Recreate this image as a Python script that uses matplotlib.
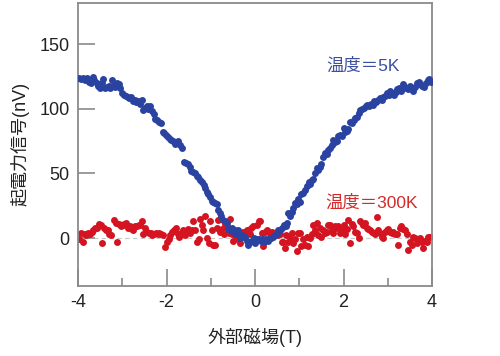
import matplotlib
matplotlib.use("Agg")
import matplotlib.pyplot as plt
from matplotlib.ticker import MultipleLocator

plt.rcParams['font.family'] = ['Liberation Sans', 'Noto Sans CJK JP', 'DejaVu Sans']
plt.rcParams['axes.unicode_minus'] = False

# 5K data (magnetic field T, signal nV)
blue_x = [-3.97, -3.93, -3.88, -3.84, -3.79, -3.75, -3.71, -3.67, -3.63, -3.58,
          -3.54, -3.50, -3.46, -3.43, -3.39, -3.35, -3.31, -3.27, -3.24, -3.20,
          -3.16, -3.12, -3.08, -3.04, -3.00, -2.96, -2.92, -2.88, -2.84, -2.80,
          -2.76, -2.72, -2.68, -2.64, -2.60, -2.56, -2.53, -2.49, -2.45, -2.41,
          -2.37, -2.33, -2.29, -2.25, -2.21, -2.17, -2.13, -2.09, -2.05, -2.01,
          -1.97, -1.93, -1.89, -1.85, -1.81, -1.77, -1.73, -1.69, -1.66, -1.60,
          -1.56, -1.52, -1.48, -1.44, -1.40, -1.36, -1.32, -1.28, -1.24, -1.20,
          -1.16, -1.13, -1.09, -1.06, -1.02, -0.98, -0.94, -0.90, -0.87, -0.83,
          -0.79, -0.76, -0.72, -0.68, -0.64, -0.61, -0.57, -0.53, -0.49, -0.45,
          -0.42, -0.38, -0.34, -0.30, -0.26, -0.23, -0.19, -0.15, -0.11, -0.07,
          -0.03, 0.01, 0.05, 0.09, 0.13, 0.17, 0.21, 0.25, 0.29, 0.33,
          0.37, 0.41, 0.45, 0.49, 0.53, 0.57, 0.61, 0.65, 0.69, 0.72,
          0.75, 0.79, 0.83, 0.87, 0.90, 0.94, 0.98, 1.02, 1.05, 1.09,
          1.13, 1.17, 1.21, 1.24, 1.28, 1.32, 1.36, 1.39, 1.43, 1.47,
          1.50, 1.54, 1.58, 1.62, 1.66, 1.69, 1.73, 1.77, 1.81, 1.85,
          1.88, 1.92, 1.96, 2.00, 2.03, 2.07, 2.11, 2.15, 2.19, 2.23,
          2.26, 2.30, 2.34, 2.38, 2.42, 2.46, 2.50, 2.54, 2.58, 2.62,
          2.66, 2.70, 2.74, 2.78, 2.82, 2.86, 2.90, 2.94, 2.98, 3.02,
          3.06, 3.10, 3.14, 3.18, 3.22, 3.26, 3.30, 3.34, 3.38, 3.42,
          3.46, 3.50, 3.54, 3.58, 3.62, 3.66, 3.70, 3.74, 3.78, 3.82,
          3.86, 3.90, 3.94, 3.98]
blue_y = [124, 123, 124, 122, 124, 121, 120, 125, 122, 120,
          118, 116, 120, 123, 116, 117, 118, 116, 122, 118,
          117, 120, 119, 116, 112, 111, 110, 109, 108, 109,
          106, 107, 105, 106, 104, 107, 99, 101, 102, 100,
          102, 98, 96, 92, 91, 90, 89, 82, 81, 80,
          78, 77, 76, 75, 73, 74, 75, 72, 70, 59,
          58, 57, 55, 52, 51, 50, 48, 47, 45, 43,
          41, 39, 36, 34, 32, 29, 28, 27, 26, 22,
          19, 17, 14, 13, 12, 7, 6, 8, 5, 4,
          3, 6, 0, 2, 1, 1, -2, -5, -3, -2,
          0, -4, -1, -1, -2, -1, -3, -1, -2, 0,
          0, 1, 2, 3, 6, 6, 8, 10, 9, 12,
          19, 17, 20, 23, 27, 26, 30, 28, 34, 35,
          37, 40, 43, 42, 45, 46, 50, 54, 53, 55,
          57, 63, 66, 65, 68, 70, 72, 76, 74, 75,
          79, 80, 79, 85, 82, 83, 84, 90, 89, 91,
          93, 94, 97, 99, 100, 101, 102, 103, 102, 104,
          103, 106, 105, 107, 108, 107, 109, 110, 112, 111,
          114, 112, 111, 113, 115, 116, 114, 119, 117, 116,
          115, 118, 116, 114, 117, 120, 121, 119, 118, 117,
          120, 122, 123, 121]

# 300K data
red_x = [-3.97, -3.93, -3.89, -3.85, -3.81, -3.77, -3.73, -3.69, -3.65, -3.61,
         -3.57, -3.53, -3.49, -3.45, -3.41, -3.37, -3.33, -3.29, -3.25, -3.19,
         -3.15, -3.11, -3.07, -3.03, -2.99, -2.95, -2.91, -2.87, -2.83, -2.79,
         -2.75, -2.71, -2.67, -2.63, -2.59, -2.55, -2.52, -2.48, -2.44, -2.40,
         -2.36, -2.32, -2.28, -2.24, -2.20, -2.16, -2.12, -2.08, -2.03, -1.99,
         -1.95, -1.91, -1.87, -1.83, -1.79, -1.75, -1.71, -1.67, -1.63, -1.59,
         -1.55, -1.51, -1.47, -1.43, -1.39, -1.35, -1.31, -1.27, -1.24, -1.20,
         -1.17, -1.13, -1.09, -1.05, -1.01, -0.98, -0.95, -0.91, -0.87, -0.83,
         -0.79, -0.75, -0.71, -0.67, -0.63, -0.59, -0.56, -0.52, -0.49, -0.46,
         -0.42, -0.38, -0.34, -0.30, -0.26, -0.22, -0.18, -0.12, -0.08, -0.04,
         0.00, 0.04, 0.08, 0.11, 0.15, 0.19, 0.23, 0.27, 0.31, 0.35,
         0.39, 0.43, 0.47, 0.52, 0.56, 0.60, 0.64, 0.67, 0.71, 0.75,
         0.79, 0.83, 0.87, 0.90, 0.94, 0.98, 1.02, 1.05, 1.09, 1.13,
         1.17, 1.20, 1.24, 1.28, 1.31, 1.35, 1.39, 1.43, 1.47, 1.50,
         1.54, 1.58, 1.62, 1.66, 1.69, 1.73, 1.77, 1.81, 1.84, 1.88,
         1.92, 1.96, 2.00, 2.04, 2.07, 2.11, 2.15, 2.19, 2.22, 2.26,
         2.30, 2.34, 2.37, 2.41, 2.45, 2.49, 2.52, 2.56, 2.60, 2.64,
         2.68, 2.71, 2.75, 2.79, 2.82, 2.86, 2.90, 2.94, 2.98, 3.01,
         3.05, 3.09, 3.12, 3.16, 3.20, 3.24, 3.27, 3.31, 3.35, 3.39,
         3.43, 3.46, 3.50, 3.54, 3.58, 3.62, 3.65, 3.69, 3.73, 3.77,
         3.80, 3.84, 3.88, 3.91, 3.95]
red_y = [-1, 4, -3, 3, 2, 4, 3, 5, 6, 8,
         8, 11, 10, -4, 8, 6, 6, 3, 2, 14,
         12, -3, 11, 9, 10, 11, 12, 8, 9, 7,
         6, 9, 9, 10, 10, 13, 3, 8, 5, 4,
         4, 2, 3, 4, 3, 4, 3, 2, -7, -3,
         -1, 2, 5, 6, 8, 3, 1, 4, 6, 2,
         5, 7, 4, 6, 13, 6, -3, -1, 15, 10,
         6, 17, 0, -4, 13, 6, -5, -5, 8, 14,
         5, 7, 3, 11, 9, 4, 15, 3, -2, 6,
         1, -1, -4, 2, 5, 4, 6, 3, 8, 9,
         -1, 10, 13, 13, 4, -6, 5, 6, 5, 4,
         5, 3, 3, 2, 3, -3, -3, -8, 2, -3,
         0, 4, -4, -1, -10, 4, 4, -6, -1, -5,
         1, -6, 0, 3, 10, 6, 12, 2, 8, 1,
         6, 4, 5, 10, 10, 6, 4, 9, 8, 9,
         4, 6, 10, 3, 7, 14, -4, 11, 9, 5,
         4, 0, 13, 12, 10, 12, 8, 7, 6, 5,
         4, 3, 16, 6, 4, 1, 0, 5, 6, 7,
         5, 4, 5, 3, 3, -5, 8, 9, 7, 6,
         3, -9, -3, -5, 1, 0, -4, -2, 0, -3,
         -8, -2, -3, 1, 1]

blue = '#2b43a0'
red = '#d41420'

fig = plt.figure(figsize=(5.0, 3.56), dpi=100)
ax = fig.add_axes([0.156, 0.197, 0.708, 0.795])

ax.axhline(0, color='#c8c8c8', linestyle=(0, (4, 3)), linewidth=0.8, zorder=1)
ax.scatter(red_x, red_y, s=25, color=red, linewidths=0, zorder=2)
ax.scatter(blue_x, blue_y, s=25, color=blue, linewidths=0, zorder=3)

ax.set_xlim(-4, 4)
ax.set_ylim(-37, 182)
ax.xaxis.set_major_locator(MultipleLocator(2))
ax.xaxis.set_minor_locator(MultipleLocator(1))
ax.set_yticks([0, 50, 100, 150])

for s in ax.spines.values():
    s.set_color('#8a8a8a')
    s.set_linewidth(1.3)
ax.tick_params(axis='both', which='major', direction='in', length=12, width=1.2,
               color='#8a8a8a', labelsize=13, labelcolor='#222222')
ax.tick_params(axis='x', which='minor', direction='in', length=6, width=1.2,
               color='#8a8a8a')
ax.tick_params(axis='x', pad=6)
ax.tick_params(axis='y', pad=6)

ax.set_xlabel('外部磁場(T)', fontsize=13, color='#222222', labelpad=12)
ax.set_ylabel('起電力信号(nV)', fontsize=13, color='#222222', labelpad=7)

ax.text(1.60, 133, '温度＝5K', color='#3a4f9e', fontsize=12.5, va='center')
ax.text(1.58, 27, '温度＝300K', color='#d42a2a', fontsize=12.5, va='center')

fig.savefig('out.png', dpi=100)
